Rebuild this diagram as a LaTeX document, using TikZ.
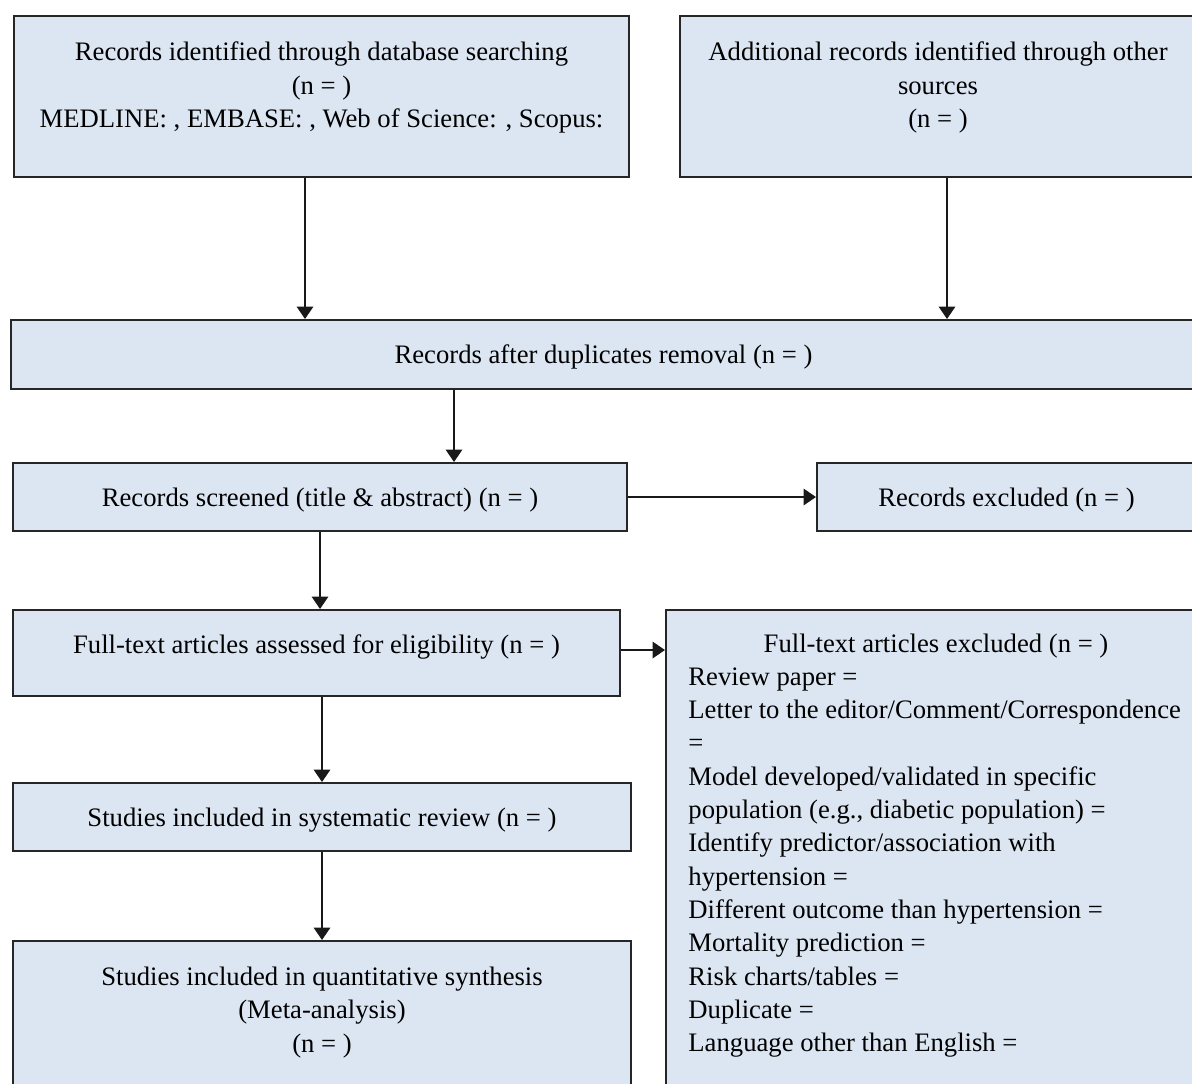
\documentclass[tikz,border=0pt]{standalone}
\usepackage{fontspec}
\setmainfont{Liberation Serif}
\usepackage{tikz}
\usetikzlibrary{arrows.meta,fit,positioning}

\definecolor{boxfill}{HTML}{DCE6F2}

\tikzset{
  flowbox/.style={draw=black!85, line width=0.9pt, fill=boxfill, inner sep=0pt},
  boxtext/.style={inner sep=0pt, align=center},
  midtext/.style={boxtext, yshift=-1.2pt},
  flowarrow/.style={draw=black!90, line width=0.9pt, -{Triangle[length=5.6pt,width=7.4pt]}}
}

\begin{document}
\begin{tikzpicture}[x=0.45pt, y=-0.45pt, every node/.style={font=\fontsize{12}{15}\selectfont}]
  \useasboundingbox (0,0) rectangle (1192,1083);
  \clip (0,0) rectangle (1192,1083);
  % boxes
  \node[flowbox, fit={(14,16) (629,177)}] (recid) {};
  \node[flowbox, fit={(680,16) (1196,177)}] (addrec) {};
  \node[flowbox, fit={(11,320) (1196,389)}] (dupl) {};
  \node[flowbox, fit={(13,463) (627,531)}] (screen) {};
  \node[flowbox, fit={(817,463) (1196,531)}] (recexc) {};
  \node[flowbox, fit={(13,610) (620,696)}] (fulltxt) {};
  \node[flowbox, fit={(666,610) (1210,1100)}] (fullexc) {};
  \node[flowbox, fit={(13,783) (631,851)}] (sysrev) {};
  \node[flowbox, fit={(13,941) (631,1100)}] (meta) {};
  % texts
  \node[boxtext, below=12pt of recid.north] (recidtxt)
    {Records identified through database searching\\(n = )\\MEDLINE: , EMBASE: , Web of Science: , Scopus:};
  \node[boxtext, below=12pt of addrec.north] (addrectxt)
    {Additional records identified through other\\sources\\(n = )};
  \node[midtext] (dupltxt) at (dupl) {Records after duplicates removal (n = )};
  \node[midtext] (screentxt) at (screen) {Records screened (title \& abstract) (n = )};
  \node[midtext] (recexctxt) at (recexc) {Records excluded (n = )};
  \node[boxtext, below=11.5pt of fulltxt.north] (fulltxttxt)
    {Full-text articles assessed for eligibility (n = )};
  \node[midtext] (sysrevtxt) at (sysrev) {Studies included in systematic review (n = )};
  \node[boxtext, below=12pt of meta.north] (metatxt)
    {Studies included in quantitative synthesis\\(Meta-analysis)\\(n = )};
  \node[boxtext] (fullexctitle) at (936,646) {Full-text articles excluded (n = )};
  \node[inner sep=0pt, align=left, anchor=north west] (fullexctxt) at (688,667)
    {Review paper =\\
     Letter to the editor/Comment/Correspondence\\
     =\\
     Model developed/validated in specific\\
     population (e.g., diabetic population) =\\
     Identify predictor/association with\\
     hypertension =\\
     Different outcome than hypertension =\\
     Mortality prediction =\\
     Risk charts/tables =\\
     Duplicate =\\
     Language other than English =};
  % arrows
  \coordinate (ax1) at (305,0);
  \coordinate (ax2) at (947,0);
  \coordinate (ax3) at (454,0);
  \coordinate (ay1) at (0,650);
  \draw[flowarrow] (recid.south -| ax1) -- (dupl.north -| ax1);
  \draw[flowarrow] (addrec.south -| ax2) -- (dupl.north -| ax2);
  \draw[flowarrow] (dupl.south -| ax3) -- (screen.north -| ax3);
  \draw[flowarrow] (screen.east) -- (recexc.west);
  \draw[flowarrow] (screen.south) -- (screen.south |- fulltxt.north);
  \draw[flowarrow] (fulltxt.east |- ay1) -- (fullexc.west |- ay1);
  \draw[flowarrow] (fulltxt.south -| sysrev) -- (sysrev.north);
  \draw[flowarrow] (sysrev.south) -- (meta.north);
\end{tikzpicture}
\end{document}
